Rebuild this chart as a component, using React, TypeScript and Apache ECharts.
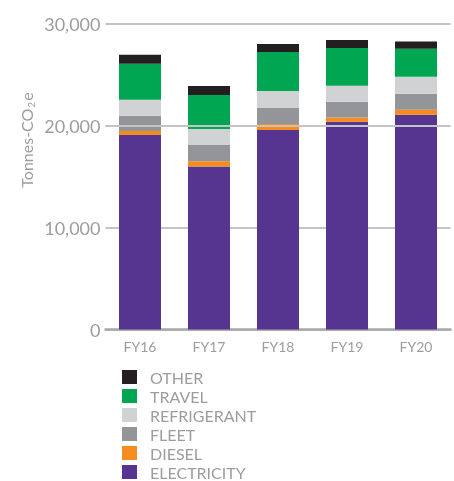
import React, { useEffect, useRef } from "react";
import * as echarts from "echarts";

const categories = ["FY16", "FY17", "FY18", "FY19", "FY20"];
const electricity = [19100, 16000, 19600, 20400, 21100];
const diesel = [400, 520, 590, 420, 490];
const fleet = [1500, 1600, 1570, 1540, 1570];
const refrigerant = [1570, 1570, 1670, 1570, 1670];
const travel = [3530, 3330, 3820, 3720, 2750];
const other = [880, 880, 780, 780, 690];
const yTicks = [0, 10000, 20000, 30000];
const legendOrder = ["OTHER", "TRAVEL", "REFRIGERANT", "FLEET", "DIESEL", "ELECTRICITY"];

const seriesDefs = [
  { name: "ELECTRICITY", data: electricity, color: "#563591" },
  { name: "DIESEL", data: diesel, color: "#f68b1f" },
  { name: "FLEET", data: fleet, color: "#949599" },
  { name: "REFRIGERANT", data: refrigerant, color: "#d1d2d4" },
  { name: "TRAVEL", data: travel, color: "#00a651" },
  { name: "OTHER", data: other, color: "#231f20" },
];

const FONT = "Lato";
const GREY = "#9d9d9d";

export default function App() {
  const ref = useRef<HTMLDivElement>(null);
  useEffect(() => {
    if (!ref.current) return;
    const chart = echarts.init(ref.current, null, { renderer: "svg" });
    const series: any[] = seriesDefs.map((s, i) => ({
      name: s.name,
      type: "bar",
      stack: "total",
      data: s.data,
      barWidth: 42,
      itemStyle: { color: s.color },
      emphasis: { disabled: true },
      ...(i === seriesDefs.length - 1
        ? {
            markLine: {
              silent: true,
              symbol: "none",
              label: { show: false },
              lineStyle: { color: "#c4c4c4", width: 2, type: "solid" },
              data: [{ yAxis: yTicks[2] }],
            },
          }
        : {}),
    }));
    chart.setOption({
      animation: false,
      grid: { left: 105.5, right: 3.5, top: 24, bottom: 151.5 },
      xAxis: {
        type: "category",
        data: categories,
        axisLine: { lineStyle: { color: "#a8a8a8", width: 2.5 } },
        axisTick: { show: false },
        axisLabel: { color: GREY, fontFamily: FONT, fontSize: 14, margin: 10 },
      },
      yAxis: {
        type: "value",
        min: yTicks[0],
        max: yTicks[yTicks.length - 1],
        interval: yTicks[1] - yTicks[0],
        axisLine: { show: false },
        axisTick: { show: false },
        splitLine: { lineStyle: { color: "#b0b0b0", width: 1.5 } },
        axisLabel: {
          color: GREY,
          fontFamily: FONT,
          fontSize: 18,
          margin: 5,
          padding: [0, 0, 6, 0],
          formatter: (v: number) => v.toLocaleString("en-US"),
        },
      },
      legend: {
        data: legendOrder,
        orient: "vertical",
        left: 122,
        top: 369,
        height: 130,
        icon: "rect",
        itemWidth: 15,
        itemHeight: 14,
        itemGap: 3,
        padding: 0,
        selectedMode: false,
        textStyle: {
          color: GREY,
          fontFamily: FONT,
          fontSize: 16,
          lineHeight: 14,
          padding: [0, 0, 0, 8],
        },
      },
      graphic: [
        {
          type: "text",
          x: 26,
          y: 140,
          rotation: Math.PI / 2,
          style: {
            text: "{a|Tonnes-CO}{s|2}{a|e}",
            align: "center",
            verticalAlign: "middle",
            fill: GREY,
            rich: {
              a: { fontFamily: FONT, fontSize: 16, fill: GREY, lineHeight: 20, verticalAlign: "middle" },
              s: { fontFamily: FONT, fontSize: 10, fill: GREY, lineHeight: 20, verticalAlign: "bottom", padding: [8, 1, 0, 1] },
            },
          },
        },
      ],
      series,
    });
    return () => chart.dispose();
  }, []);
  return (
    <div
      ref={ref}
      style={{ position: "fixed", left: 0, top: 0, width: 454, height: 481 }}
    />
  );
}
